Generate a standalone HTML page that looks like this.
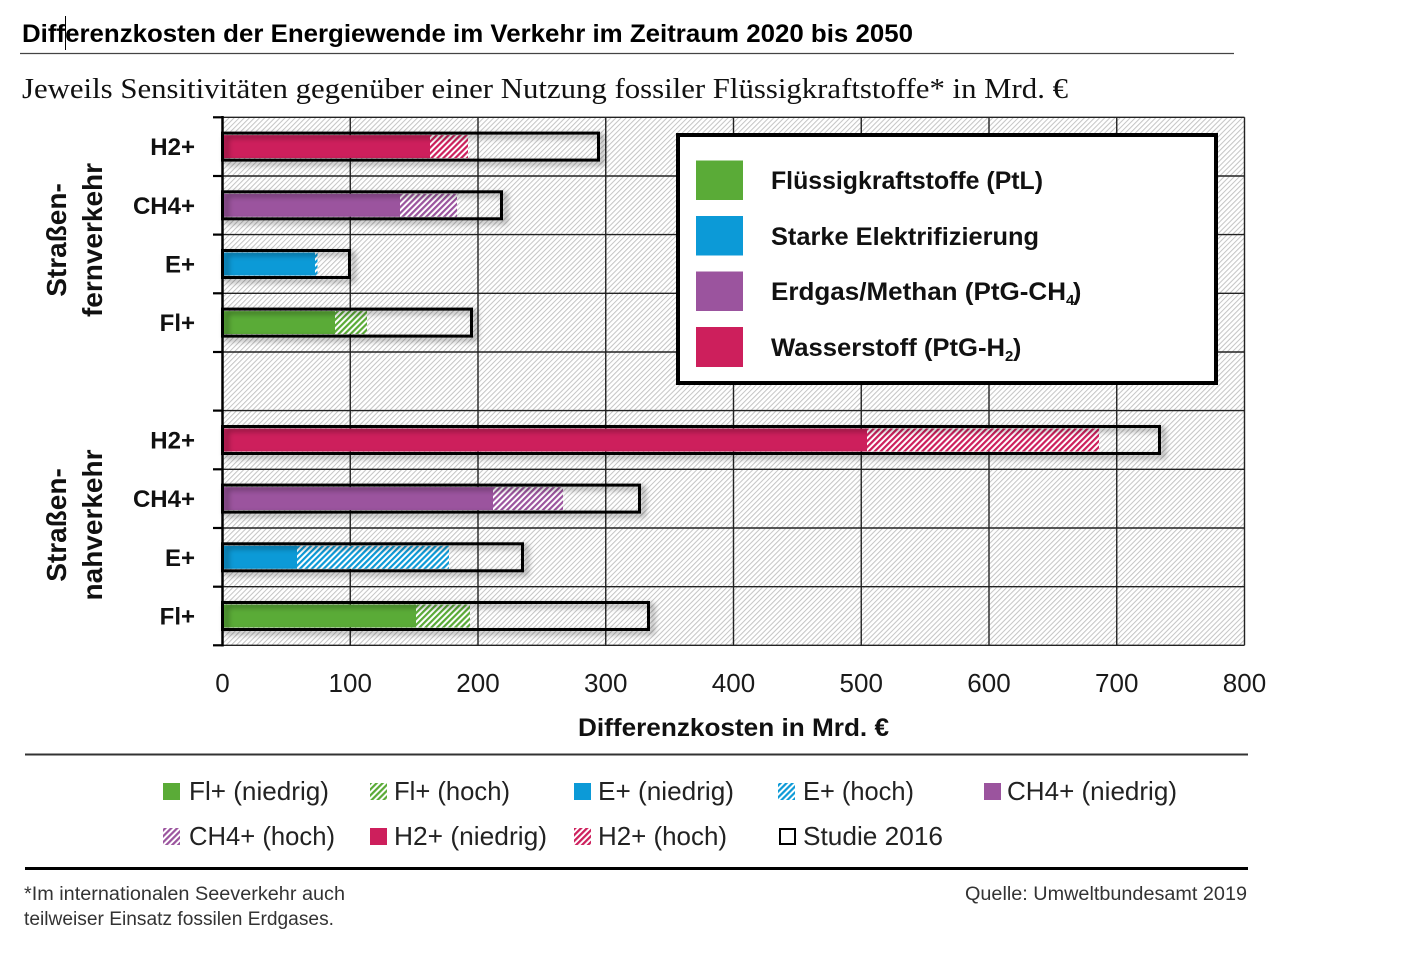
<!DOCTYPE html>
<html>
<head>
<meta charset="utf-8">
<style>
html,body{margin:0;padding:0;background:#fff;}
svg{display:block;}
text{font-family:"Liberation Sans",Arial,sans-serif;}
.serif{font-family:"Liberation Serif","Times New Roman",serif;}
</style>
</head>
<body>
<svg width="1414" height="953" viewBox="0 0 1414 953" xmlns="http://www.w3.org/2000/svg">
<defs>
  <pattern id="bg" patternUnits="userSpaceOnUse" width="3.6" height="10" patternTransform="rotate(45)">
    <rect width="3.6" height="10" fill="#ffffff"/>
    <rect width="1" height="10" fill="#c4c4c4"/>
  </pattern>
  <pattern id="hg" patternUnits="userSpaceOnUse" width="4.2" height="10" patternTransform="rotate(45)">
    <rect width="4.2" height="10" fill="#ffffff"/>
    <rect width="2.2" height="10" fill="#5aab37"/>
  </pattern>
  <pattern id="hb" patternUnits="userSpaceOnUse" width="4.2" height="10" patternTransform="rotate(45)">
    <rect width="4.2" height="10" fill="#ffffff"/>
    <rect width="2.2" height="10" fill="#0c9ad7"/>
  </pattern>
  <pattern id="hp" patternUnits="userSpaceOnUse" width="4.2" height="10" patternTransform="rotate(45)">
    <rect width="4.2" height="10" fill="#ffffff"/>
    <rect width="2.2" height="10" fill="#9b549e"/>
  </pattern>
  <pattern id="hr" patternUnits="userSpaceOnUse" width="4.2" height="10" patternTransform="rotate(45)">
    <rect width="4.2" height="10" fill="#ffffff"/>
    <rect width="2.2" height="10" fill="#cd1f5c"/>
  </pattern>
  <filter id="sh" x="-10%" y="-50%" width="130%" height="220%">
    <feDropShadow dx="4" dy="3" stdDeviation="3" flood-color="#000" flood-opacity="0.45"/>
  </filter>
</defs>

<!-- Title -->
<text x="22" y="42" font-size="25" font-weight="bold" fill="#000" textLength="891" lengthAdjust="spacingAndGlyphs">Differenzkosten der Energiewende im Verkehr im Zeitraum 2020 bis 2050</text>
<line x1="65.5" y1="16" x2="65.5" y2="50" stroke="#000" stroke-width="1"/>
<line x1="20" y1="53.5" x2="1234" y2="53.5" stroke="#444" stroke-width="1.3"/>

<!-- Subtitle -->
<text class="serif" x="22" y="98" font-size="28" fill="#111" textLength="1046" lengthAdjust="spacingAndGlyphs">Jeweils Sensitivitäten gegenüber einer Nutzung fossiler Flüssigkraftstoffe* in Mrd. €</text>

<!-- Plot background -->
<rect x="222.5" y="117.3" width="1022" height="528" fill="url(#bg)"/>

<!-- Gridlines vertical -->
<g stroke="#222" stroke-width="1.4">
  <line x1="350.25" y1="117.3" x2="350.25" y2="645.3"/>
  <line x1="478" y1="117.3" x2="478" y2="645.3"/>
  <line x1="605.75" y1="117.3" x2="605.75" y2="645.3"/>
  <line x1="733.5" y1="117.3" x2="733.5" y2="645.3"/>
  <line x1="861.25" y1="117.3" x2="861.25" y2="645.3"/>
  <line x1="989" y1="117.3" x2="989" y2="645.3"/>
  <line x1="1116.75" y1="117.3" x2="1116.75" y2="645.3"/>
  <line x1="1244.5" y1="117.3" x2="1244.5" y2="645.3"/>
</g>
<!-- Gridlines horizontal -->
<g stroke="#222" stroke-width="1.4">
  <line x1="222.5" y1="117.3" x2="1244.5" y2="117.3"/>
  <line x1="222.5" y1="176" x2="1244.5" y2="176"/>
  <line x1="222.5" y1="234.6" x2="1244.5" y2="234.6"/>
  <line x1="222.5" y1="293.3" x2="1244.5" y2="293.3"/>
  <line x1="222.5" y1="352" x2="1244.5" y2="352"/>
  <line x1="222.5" y1="410.6" x2="1244.5" y2="410.6"/>
  <line x1="222.5" y1="469.3" x2="1244.5" y2="469.3"/>
  <line x1="222.5" y1="528" x2="1244.5" y2="528"/>
  <line x1="222.5" y1="586.7" x2="1244.5" y2="586.7"/>
  <line x1="222.5" y1="645.3" x2="1244.5" y2="645.3"/>
</g>

<!-- Bars: upper group (Straßenfernverkehr) -->
<rect x="222.5" y="135.1" width="207.5" height="23" fill="#cd1f5c"/>
<rect x="430" y="135.1" width="38" height="23" fill="url(#hr)"/>
<rect x="222.5" y="133.1" width="376" height="27" fill="none" stroke="#000" stroke-width="3" filter="url(#sh)"/>

<rect x="222.5" y="193.8" width="177.5" height="23" fill="#9b549e"/>
<rect x="400" y="193.8" width="57" height="23" fill="url(#hp)"/>
<rect x="222.5" y="191.8" width="279" height="27" fill="none" stroke="#000" stroke-width="3" filter="url(#sh)"/>

<rect x="222.5" y="252.5" width="92.5" height="23" fill="#0c9ad7"/>
<rect x="315" y="252.5" width="2.5" height="23" fill="url(#hb)"/>
<rect x="222.5" y="250.5" width="127" height="27" fill="none" stroke="#000" stroke-width="3" filter="url(#sh)"/>

<rect x="222.5" y="311.1" width="112.5" height="23" fill="#5aab37"/>
<rect x="335" y="311.1" width="32" height="23" fill="url(#hg)"/>
<rect x="222.5" y="309.1" width="249" height="27" fill="none" stroke="#000" stroke-width="3" filter="url(#sh)"/>

<!-- Bars: lower group (Straßennahverkehr) -->
<rect x="222.5" y="428.5" width="644.5" height="23" fill="#cd1f5c"/>
<rect x="867" y="428.5" width="232" height="23" fill="url(#hr)"/>
<rect x="222.5" y="426.5" width="937" height="27" fill="none" stroke="#000" stroke-width="3" filter="url(#sh)"/>

<rect x="222.5" y="487.1" width="270.5" height="23" fill="#9b549e"/>
<rect x="493" y="487.1" width="70" height="23" fill="url(#hp)"/>
<rect x="222.5" y="485.1" width="417" height="27" fill="none" stroke="#000" stroke-width="3" filter="url(#sh)"/>

<rect x="222.5" y="545.8" width="74.5" height="23" fill="#0c9ad7"/>
<rect x="297" y="545.8" width="152" height="23" fill="url(#hb)"/>
<rect x="222.5" y="543.8" width="300" height="27" fill="none" stroke="#000" stroke-width="3" filter="url(#sh)"/>

<rect x="222.5" y="604.5" width="193.5" height="23" fill="#5aab37"/>
<rect x="416" y="604.5" width="54" height="23" fill="url(#hg)"/>
<rect x="222.5" y="602.5" width="426" height="27" fill="none" stroke="#000" stroke-width="3" filter="url(#sh)"/>

<!-- Legend box (in plot) -->
<rect x="678" y="135" width="538" height="248" fill="#fff" stroke="#000" stroke-width="4"/>
<rect x="696" y="160.5" width="47" height="39.5" fill="#5aab37"/>
<rect x="696" y="216" width="47" height="39.5" fill="#0c9ad7"/>
<rect x="696" y="271.5" width="47" height="39.5" fill="#9b549e"/>
<rect x="696" y="327" width="47" height="40" fill="#cd1f5c"/>
<g font-size="25" font-weight="bold" fill="#111">
  <text x="771" y="189" textLength="272" lengthAdjust="spacingAndGlyphs">Flüssigkraftstoffe (PtL)</text>
  <text x="771" y="245" textLength="268" lengthAdjust="spacingAndGlyphs">Starke Elektrifizierung</text>
  <text x="771" y="300" textLength="295" lengthAdjust="spacingAndGlyphs">Erdgas/Methan (PtG-CH</text>
  <text x="1066" y="305" font-size="15">4</text>
  <text x="1073" y="300">)</text>
  <text x="771" y="356" textLength="234" lengthAdjust="spacingAndGlyphs">Wasserstoff (PtG-H</text>
  <text x="1005" y="361" font-size="15">2</text>
  <text x="1013" y="356">)</text>
</g>

<!-- Left axis & ticks -->
<line x1="222.5" y1="116" x2="222.5" y2="646.5" stroke="#000" stroke-width="2.5"/>
<g stroke="#000" stroke-width="2.2">
  <line x1="213" y1="117.3" x2="222.5" y2="117.3"/>
  <line x1="213" y1="176" x2="222.5" y2="176"/>
  <line x1="213" y1="234.6" x2="222.5" y2="234.6"/>
  <line x1="213" y1="293.3" x2="222.5" y2="293.3"/>
  <line x1="213" y1="352" x2="222.5" y2="352"/>
  <line x1="213" y1="410.6" x2="222.5" y2="410.6"/>
  <line x1="213" y1="469.3" x2="222.5" y2="469.3"/>
  <line x1="213" y1="528" x2="222.5" y2="528"/>
  <line x1="213" y1="586.7" x2="222.5" y2="586.7"/>
  <line x1="213" y1="645.3" x2="222.5" y2="645.3"/>
</g>

<!-- Category labels -->
<g font-size="24" font-weight="bold" fill="#111" text-anchor="end">
  <text x="195" y="155.2">H2+</text>
  <text x="195" y="213.9">CH4+</text>
  <text x="195" y="272.6">E+</text>
  <text x="195" y="331.2">Fl+</text>
  <text x="195" y="448.6">H2+</text>
  <text x="195" y="507.2">CH4+</text>
  <text x="195" y="565.9">E+</text>
  <text x="195" y="624.6">Fl+</text>
</g>

<!-- Group labels -->
<g font-size="28" font-weight="bold" fill="#111" text-anchor="middle">
  <text transform="translate(66,240) rotate(-90)">Straßen-</text>
  <text transform="translate(102,240) rotate(-90)">fernverkehr</text>
  <text transform="translate(66,525) rotate(-90)">Straßen-</text>
  <text transform="translate(102,525) rotate(-90)">nahverkehr</text>
</g>

<!-- X axis labels -->
<g font-size="26" fill="#1a1a1a" text-anchor="middle">
  <text x="222.5" y="692">0</text>
  <text x="350.25" y="692">100</text>
  <text x="478" y="692">200</text>
  <text x="605.75" y="692">300</text>
  <text x="733.5" y="692">400</text>
  <text x="861.25" y="692">500</text>
  <text x="989" y="692">600</text>
  <text x="1116.75" y="692">700</text>
  <text x="1244.5" y="692">800</text>
</g>
<text x="578" y="736" font-size="25" font-weight="bold" fill="#111" textLength="311" lengthAdjust="spacingAndGlyphs">Differenzkosten in Mrd. €</text>

<!-- Bottom legend -->
<line x1="25" y1="754.5" x2="1248" y2="754.5" stroke="#333" stroke-width="2"/>
<rect x="163" y="783" width="17" height="17" fill="#5aab37"/>
<rect x="370" y="783" width="17" height="17" fill="url(#hg)"/>
<rect x="574" y="783" width="17" height="17" fill="#0c9ad7"/>
<rect x="778" y="783" width="17" height="17" fill="url(#hb)"/>
<rect x="984" y="783" width="17" height="17" fill="#9b549e"/>
<rect x="163" y="828" width="17" height="17" fill="url(#hp)"/>
<rect x="370" y="828" width="17" height="17" fill="#cd1f5c"/>
<rect x="574" y="828" width="17" height="17" fill="url(#hr)"/>
<rect x="780" y="829" width="15" height="15" fill="none" stroke="#000" stroke-width="2"/>
<g font-size="26" fill="#222">
  <text x="189" y="800" textLength="140" lengthAdjust="spacingAndGlyphs">Fl+ (niedrig)</text>
  <text x="394" y="800" textLength="116" lengthAdjust="spacingAndGlyphs">Fl+ (hoch)</text>
  <text x="598" y="800" textLength="136" lengthAdjust="spacingAndGlyphs">E+ (niedrig)</text>
  <text x="803" y="800" textLength="111" lengthAdjust="spacingAndGlyphs">E+ (hoch)</text>
  <text x="1007" y="800" textLength="170" lengthAdjust="spacingAndGlyphs">CH4+ (niedrig)</text>
  <text x="189" y="845" textLength="146" lengthAdjust="spacingAndGlyphs">CH4+ (hoch)</text>
  <text x="394" y="845" textLength="153" lengthAdjust="spacingAndGlyphs">H2+ (niedrig)</text>
  <text x="598" y="845" textLength="129" lengthAdjust="spacingAndGlyphs">H2+ (hoch)</text>
  <text x="803" y="845" textLength="140" lengthAdjust="spacingAndGlyphs">Studie 2016</text>
</g>
<line x1="25" y1="868.5" x2="1248" y2="868.5" stroke="#000" stroke-width="3"/>

<!-- Footer -->
<g font-size="19" fill="#333">
  <text x="24" y="900" textLength="321" lengthAdjust="spacingAndGlyphs">*Im internationalen Seeverkehr auch</text>
  <text x="24" y="925" textLength="310" lengthAdjust="spacingAndGlyphs">teilweiser Einsatz fossilen Erdgases.</text>
  <text x="965" y="900" textLength="282" lengthAdjust="spacingAndGlyphs">Quelle: Umweltbundesamt 2019</text>
</g>
</svg>
</body>
</html>
